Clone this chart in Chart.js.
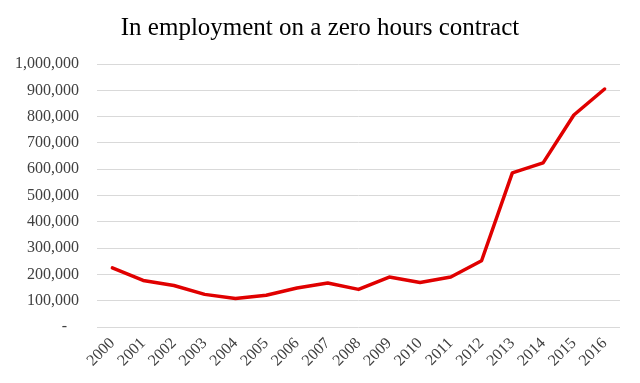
<!DOCTYPE html>
<html>
<head>
<meta charset="utf-8">
<script src="https://cdn.jsdelivr.net/npm/chart.js@4"></script>
<style>
  html, body { margin: 0; padding: 0; background: #ffffff; }
  #wrap { width: 640px; height: 383px; position: relative; }
</style>
</head>
<body>
<div id="wrap"><canvas id="c" width="640" height="383"></canvas></div>
<script>
const titleText = "In employment on a zero hours contract";
const years = ["2000","2001","2002","2003","2004","2005","2006","2007","2008","2009","2010","2011","2012","2013","2014","2015","2016"];
const zeroHours = [225000,177000,158000,124000,108000,121000,148000,167000,143000,190000,169000,190000,252000,586000,624000,806000,905000];
const yTickMin = 0;
const yTickMax = 1000000;
const yTickStep = 100000;

const serif = "'Liberation Serif', 'Times New Roman', serif";

const centeredTitle = {
  id: 'centeredTitle',
  afterDraw(chart, args, opts) {
    const ctx = chart.ctx;
    ctx.save();
    ctx.font = opts.size + 'px ' + serif;
    ctx.fillStyle = opts.color;
    ctx.textAlign = 'center';
    ctx.textBaseline = 'middle';
    ctx.fillText(opts.text, chart.width / 2, opts.y);
    ctx.restore();
  }
};

new Chart(document.getElementById('c'), {
  type: 'line',
  data: {
    labels: years,
    datasets: [{
      label: titleText,
      data: zeroHours,
      borderColor: '#e00000',
      backgroundColor: '#e00000',
      borderWidth: 3.5,
      pointRadius: 0,
      tension: 0,
      borderCapStyle: 'round',
      borderJoinStyle: 'round',
      fill: false
    }]
  },
  plugins: [centeredTitle],
  options: {
    responsive: false,
    animation: false,
    devicePixelRatio: 1,
    layout: { padding: { left: 0, right: 20, top: 64, bottom: 0 } },
    plugins: {
      legend: { display: false },
      tooltip: { enabled: false },
      title: { display: false },
      centeredTitle: { text: titleText, color: '#000000', size: 25, y: 28 }
    },
    scales: {
      x: {
        offset: true,
        grid: { display: false, drawTicks: false, offset: true },
        border: { display: false },
        ticks: {
          color: '#404040',
          font: { family: serif, size: 16 },
          minRotation: 45,
          maxRotation: 45,
          padding: 7,
          autoSkip: false
        },
        afterFit: (s) => { s.height = 56; }
      },
      y: {
        min: yTickMin,
        max: yTickMax,
        grid: { color: '#d9d9d9', lineWidth: 1, drawTicks: false },
        border: { display: false },
        ticks: {
          stepSize: yTickStep,
          color: '#404040',
          font: { family: serif, size: 16 },
          padding: 18,
          callback: (v) => v === 0 ? '-   ' : Number(v).toLocaleString('en-US')
        },
        afterFit: (s) => { s.width = 97; }
      }
    }
  }
});
</script>
</body>
</html>
